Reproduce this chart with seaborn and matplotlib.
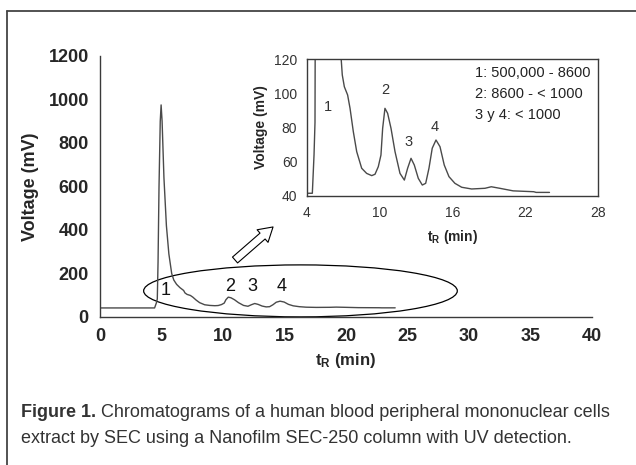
import numpy as np
import pandas as pd
import matplotlib
matplotlib.use("Agg")
import matplotlib.pyplot as plt
import seaborn as sns
from matplotlib.patches import Ellipse
from matplotlib.lines import Line2D

# chromatogram (retention time in min, signal in mV)
t_min = [0, 4.44, 4.58, 4.66, 4.72, 4.8, 4.9, 4.97, 5.05, 5.2, 5.4, 5.6, 5.83,
         6.0, 6.23, 6.5, 6.8, 6.91, 7.08, 7.35, 7.55, 7.82, 8.1, 8.51, 8.92,
         9.34, 9.61, 9.88, 10.1, 10.24, 10.43, 10.65, 10.93, 11.26, 11.67,
         12.03, 12.3, 12.58, 12.85, 13.18, 13.51, 13.79, 14.06, 14.33, 14.64,
         14.97, 15.32, 15.71, 16.2, 16.76, 17.58, 18.68, 19.2, 19.9, 21.0,
         22.7, 22.9, 24.0]
voltage = [41.6, 41.6, 64, 83, 250, 600, 900, 975, 900, 640, 420, 290, 200,
           170, 150, 135, 122, 110.7, 103.8, 99, 91.2, 77.6, 65.9, 56.2, 53.2,
           51.9, 52.7, 57.1, 63.9, 79.5, 91.2, 88.3, 79.5, 65.9, 53.2,
           49.3, 56.2, 62, 58.1, 50.3, 46.4, 47.4, 56.2, 67.9, 72.7,
           68.8, 58.1, 51.3, 47.4, 45.1, 44.1, 44.5, 45.4, 44.5, 43,
           42.5, 42.1, 42.1]

peak_labels = ["1", "2", "3", "4"]
main_label_x = [5.3, 10.6, 12.4, 14.8]
main_label_y = [124, 138, 138, 138]
inset_label_x = [5.73, 10.43, 12.35, 14.56]
inset_label_y = [92, 102, 71.7, 80.5]

mw_ranges = ["1: 500,000 - 8600", "2: 8600 - < 1000", "3 y 4: < 1000"]

caption_bold = "Figure 1."
caption_rest = " Chromatograms of a human blood peripheral mononuclear cells"
caption_line2 = "extract by SEC using a Nanofilm SEC-250 column with UV detection."

df = pd.DataFrame({"t": t_min, "v": voltage})

sns.set_style("white")
plt.rcParams["font.family"] = ["Liberation Sans", "DejaVu Sans"]
plt.rcParams["mathtext.fontset"] = "custom"
plt.rcParams["mathtext.rm"] = "Liberation Sans"
plt.rcParams["mathtext.bf"] = "Liberation Sans:bold"

line_col = "#4a4a4a"
axis_col = "#3a3a3a"

fig = plt.figure(figsize=(6.36, 4.65), dpi=100)

# main chromatogram
ax = fig.add_axes([0.1572, 0.3183, 0.7736, 0.5613])
sns.lineplot(data=df, x="t", y="v", ax=ax, color=line_col, lw=1.0)
ax.set_xlim(0, 40)
ax.set_ylim(0, 1200)
ax.set_xticks(np.arange(0, 41, 5))
ax.set_yticks(np.arange(0, 1201, 200))
for s in ["top", "right"]:
    ax.spines[s].set_visible(False)
for s in ["left", "bottom"]:
    ax.spines[s].set_color(axis_col)
    ax.spines[s].set_linewidth(1.0)
ax.tick_params(direction="out", length=4, width=1.0, color=axis_col, pad=4,
               labelsize=13)
for lab in ax.get_xticklabels() + ax.get_yticklabels():
    lab.set_fontweight("bold")
ax.set_xlabel(r"$\mathbf{t_R}$ (min)", fontsize=12, fontweight="bold", labelpad=4)
ax.set_ylabel("Voltage (mV)", fontsize=13, fontweight="bold", labelpad=7)

for lab, x, y in zip(peak_labels, main_label_x, main_label_y):
    ax.text(x, y, lab, fontsize=13, ha="center", va="center", color="#111111")

ell = Ellipse((16.3, 120), 25.5, 239, fill=False, ec="black", lw=0.9, clip_on=False)
ax.add_patch(ell)
ax.annotate("", xy=(14.07, 414), xytext=(10.98, 262),
            arrowprops=dict(arrowstyle="simple,head_length=0.5,head_width=0.6,tail_width=0.28",
                            mutation_scale=20, fc="white", ec="black", lw=0.8,
                            shrinkA=0, shrinkB=0))

# inset zoom
axi = fig.add_axes([0.4827, 0.5785, 0.4575, 0.2946])
sns.lineplot(data=df, x="t", y="v", ax=axi, color=line_col, lw=1.0)
axi.set_xlim(4, 28)
axi.set_ylim(40, 120)
axi.set_xticks(np.arange(4, 29, 6))
axi.set_yticks(np.arange(40, 121, 20))
for s in axi.spines.values():
    s.set_color(axis_col)
    s.set_linewidth(1.0)
axi.tick_params(direction="out", length=4, width=1.0, color=axis_col, pad=3,
                labelsize=10, labelcolor="#333333")
axi.set_xlabel(r"$\mathbf{t_R}$ (min)", fontsize=10, fontweight="bold", labelpad=6)
axi.set_ylabel("Voltage (mV)", fontsize=10, fontweight="bold", labelpad=4)
for lab, x, y in zip(peak_labels, inset_label_x, inset_label_y):
    axi.text(x, y, lab, fontsize=10.5, ha="center", va="center", color="#333333")
for i, txt in enumerate(mw_ranges):
    axi.text(0.577, 0.9 - i * 0.155, txt, transform=axi.transAxes, fontsize=10.5,
             ha="left", va="center", color="#222222")

# frame around figure + caption
W, H = 636, 465
fig.add_artist(Line2D([6.5 / W, 1.0], [1 - 11.5 / H] * 2, color="#444444", lw=1.3))
fig.add_artist(Line2D([6.5 / W] * 2, [0, 1 - 11.5 / H], color="#444444", lw=1.3))

cap_font = ["Liberation Sans", "DejaVu Sans"]
t1 = fig.text(21 / W, 1 - 412 / H, caption_bold, family=cap_font, fontsize=13,
              fontweight="bold", color="#333333", va="center")
fig.canvas.draw()
bb = t1.get_window_extent()
fig.text(bb.x1 / W, 1 - 412 / H, caption_rest, family=cap_font, fontsize=13,
         color="#333333", va="center")
fig.text(21 / W, 1 - 438 / H, caption_line2, family=cap_font, fontsize=13,
         color="#333333", va="center")

fig.savefig("out.png", dpi=100)
